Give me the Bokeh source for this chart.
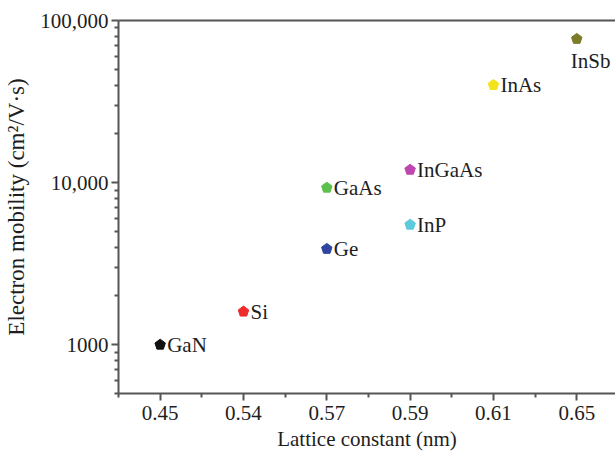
from bokeh.plotting import figure
from bokeh.models import FixedTicker, Range1d, LinearAxis, ColumnDataSource, LabelSet
from bokeh.core.properties import value
from bokeh.embed import file_html
from bokeh.resources import INLINE

# ---- data ----
lattice_ticks = ["0.45", "0.54", "0.57", "0.59", "0.61", "0.65"]
materials = ["GaN", "Si", "Ge", "GaAs", "InP", "InGaAs", "InAs", "InSb"]
lattice = ["0.45", "0.54", "0.57", "0.57", "0.59", "0.59", "0.61", "0.65"]
mobility = [1000, 1600, 3900, 9300, 5500, 12000, 40000, 77000]
y_major = [1000, 10000, 100000]
y_major_labels = ["1000", "10,000", "100,000"]

# ---- styles ----
colors = ["#111111", "#ee2b2b", "#2f45a0", "#5cc04e", "#5ccbdc", "#bf46b0", "#f2e41c", "#7b7b2a"]
label_dx = [7, 7, 7, 7, 7, 7, 7, -6]
label_dy = [0, 0, 0, 0, 0, 0, 0, -22]

FONT = "Liberation Serif"
AX = "#555555"
TXT = "#1e1e1e"

xpos = [lattice_ticks.index(v) for v in lattice]
src = ColumnDataSource(dict(x=xpos, y=mobility, name=materials, color=colors,
                            dx=label_dx, dy=label_dy))

p = figure(width=615, height=458, y_axis_type="log",
           x_range=Range1d(-0.5, 5.465), y_range=Range1d(500, 100000),
           output_backend="svg", toolbar_location=None,
           min_border_left=118, min_border_right=0, min_border_top=20,
           min_border_bottom=65)
p.outline_line_color = None
p.grid.visible = False
p.background_fill_color = "white"
p.border_fill_color = "white"

# x axis
xa = p.xaxis[0]
xa.ticker = FixedTicker(ticks=list(range(len(lattice_ticks))),
                        minor_ticks=[i - 0.5 for i in range(len(lattice_ticks) + 1)])
xa.major_label_overrides = {i: t for i, t in enumerate(lattice_ticks)}
xa.axis_label = "Lattice constant (nm)"

# y axis
ya = p.yaxis[0]
minors = []
for dec in (100, 1000, 10000):
    for m in range(2, 10):
        v = m * dec
        if 500 <= v <= 100000:
            minors.append(v)
ya.ticker = FixedTicker(ticks=y_major, minor_ticks=minors)
ya.major_label_overrides = {v: t for v, t in zip(y_major, y_major_labels)}
ya.axis_label = "Electron mobility (cm²/V·s)"

for ax in (xa, ya):
    ax.axis_line_color = AX
    ax.axis_line_width = 2
    ax.major_tick_line_color = AX
    ax.major_tick_line_width = 2
    ax.minor_tick_line_color = AX
    ax.minor_tick_line_width = 2
    ax.major_tick_out = 7
    ax.major_tick_in = 0
    ax.minor_tick_out = 4
    ax.minor_tick_in = 0
    ax.major_label_text_font = FONT
    ax.major_label_text_font_size = "21px"
    ax.major_label_text_color = TXT
    ax.axis_label_text_font = FONT
    ax.axis_label_text_font_size = "21px"
    ax.axis_label_text_font_style = "normal"
    ax.axis_label_text_color = TXT

ya.axis_label_text_font_size = "23px"
xa.major_label_standoff = 5
xa.axis_label_standoff = 4
ya.major_label_standoff = 3
ya.axis_label_standoff = 8

top = LinearAxis(ticker=FixedTicker(ticks=[]), axis_line_color=AX, axis_line_width=2,
                 major_tick_line_color=None, minor_tick_line_color=None,
                 major_label_text_font_size="0px")
p.add_layout(top, "above")

p.ngon(x="x", y="y", radius=5.5, radius_units="screen", n=5, angle=0,
       fill_color="color", line_color="color", source=src)

labels = LabelSet(x="x", y="y", text="name", source=src, x_offset="dx", y_offset="dy",
                  text_font=value(FONT), text_font_size="21px", text_color=TXT,
                  text_baseline="middle", text_align="left")
p.add_layout(labels)

open("out.html", "w").write(file_html(p, INLINE))
